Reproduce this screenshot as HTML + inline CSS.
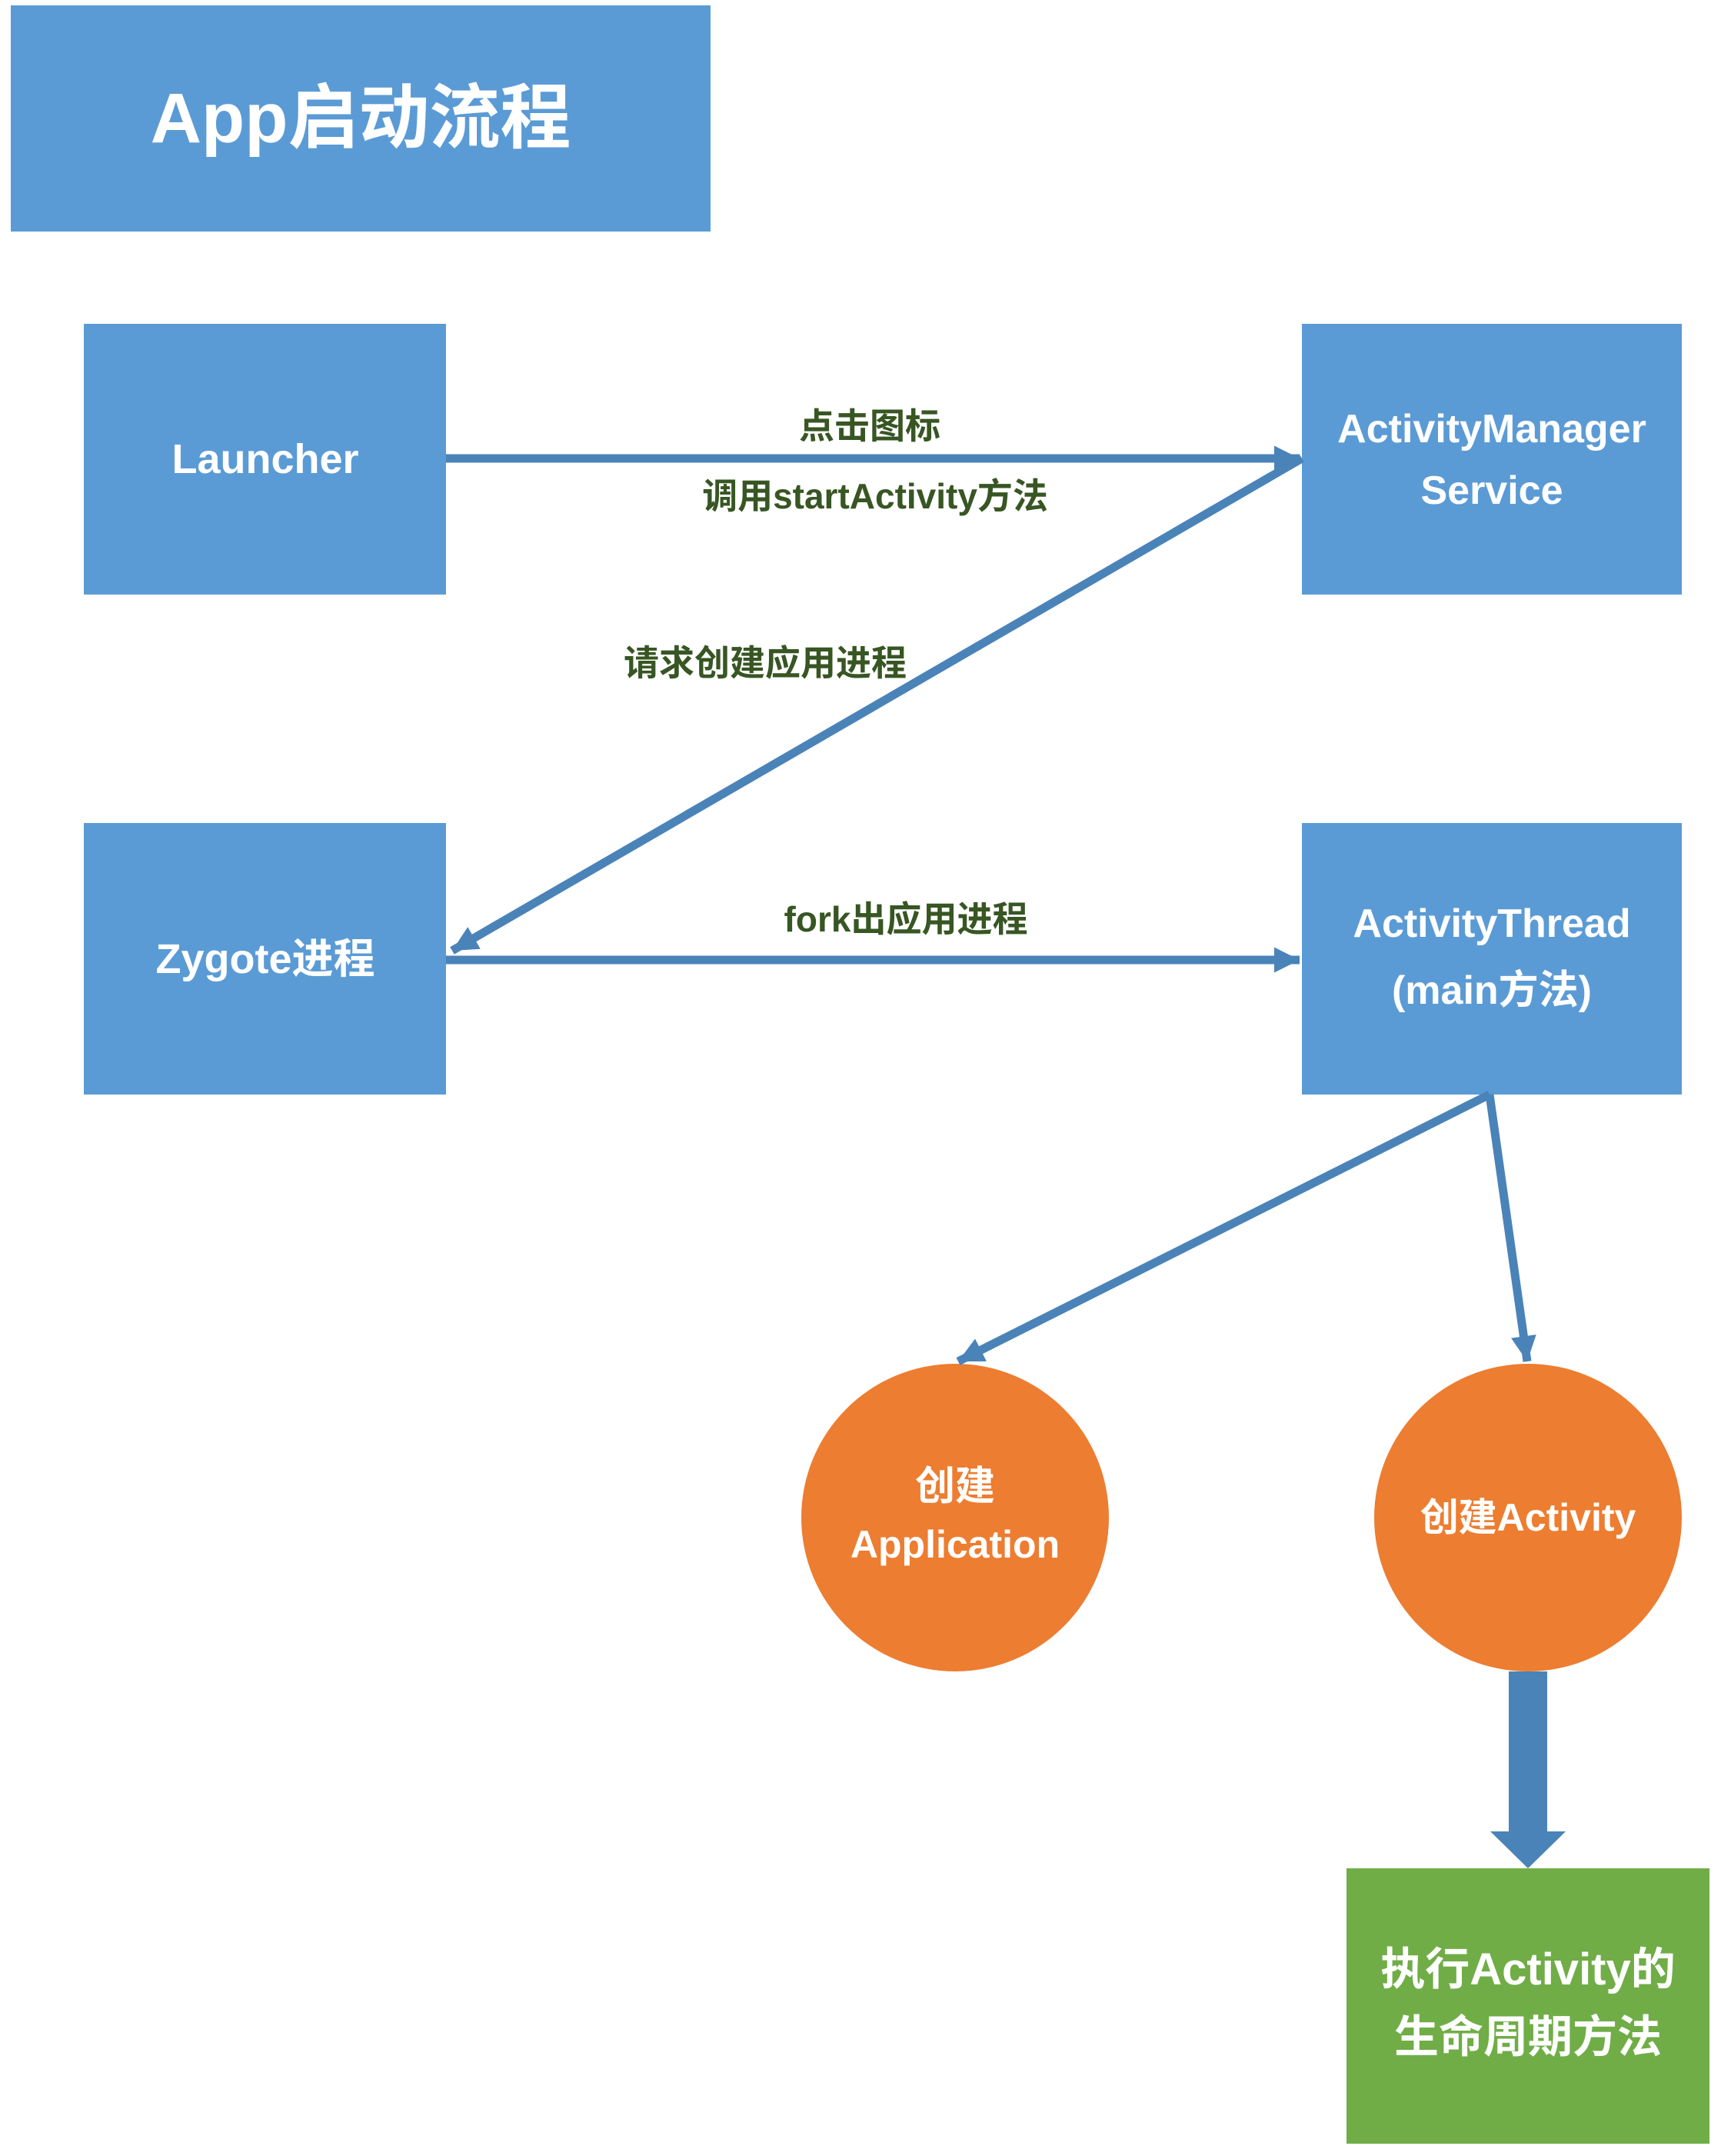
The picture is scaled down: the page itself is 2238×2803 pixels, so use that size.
<!DOCTYPE html>
<html><head><meta charset="utf-8"><style>
body{margin:0;background:#fff}
svg{display:block}
text{font-family:"Liberation Sans","Noto Sans CJK SC",sans-serif;}
.w{fill:#fff;font-weight:bold;text-anchor:middle}
.g{fill:#375623;text-anchor:middle;font-size:46px;font-weight:bold}
</style></head><body>
<svg width="2238" height="2803" viewBox="0 0 2238 2803" xmlns="http://www.w3.org/2000/svg">
<defs>
<marker id="ah" markerWidth="3" markerHeight="3" refX="3" refY="1.5" orient="auto" markerUnits="strokeWidth">
<path d="M0,0 L3,1.5 L0,3 Z" fill="#4a83b8"/></marker>
</defs>
<rect x="14" y="7" width="910" height="294" fill="#5b9bd5"/>
<text class="w" x="469" y="185" font-size="92">App启动流程</text>

<rect x="109" y="421" width="471" height="352" fill="#5b9bd5"/>
<text class="w" x="345" y="615" font-size="54">Launcher</text>
<rect x="1693" y="421" width="494" height="352" fill="#5b9bd5"/>
<text class="w" x="1940" y="575" font-size="52">ActivityManager</text>
<text class="w" x="1940" y="655" font-size="52">Service</text>
<rect x="109" y="1070" width="471" height="353" fill="#5b9bd5"/>
<text class="w" x="345" y="1265" font-size="54">Zygote进程</text>
<rect x="1693" y="1070" width="494" height="353" fill="#5b9bd5"/>
<text class="w" x="1940" y="1218" font-size="52">ActivityThread</text>
<text class="w" x="1940" y="1305" font-size="52">(main方法)</text>

<circle cx="1242" cy="1973" r="200" fill="#ed7d31"/>
<text class="w" x="1242" y="1950" font-size="52">创建</text>
<text class="w" x="1242" y="2025" font-size="50">Application</text>
<circle cx="1987" cy="1973" r="200" fill="#ed7d31"/>
<text class="w" x="1987" y="1990" font-size="50">创建Activity</text>
<rect x="1751" y="2429" width="472" height="358" fill="#70ad47"/>
<text class="w" x="1987" y="2580" font-size="58">执行Activity的</text>
<text class="w" x="1987" y="2668" font-size="58">生命周期方法</text>

<g stroke="#4a83b8" stroke-width="11" fill="none">
<line x1="580" y1="596" x2="1690" y2="596" marker-end="url(#ah)"/>
<line x1="1693" y1="596" x2="588" y2="1236" marker-end="url(#ah)"/>
<line x1="580" y1="1248" x2="1690" y2="1248" marker-end="url(#ah)"/>
<line x1="1937" y1="1423" x2="1246" y2="1770" marker-end="url(#ah)"/>
<line x1="1937" y1="1423" x2="1986" y2="1770" marker-end="url(#ah)"/>
</g>
<polygon points="1962,2173 2012,2173 2012,2381 2036,2381 1987,2429 1938,2381 1962,2381" fill="#4a83b8"/>

<text class="g" x="1131" y="570">点击图标</text>
<text class="g" x="1138" y="661">调用startActivity方法</text>
<text class="g" x="995" y="878">请求创建应用进程</text>
<text class="g" x="1178" y="1211">fork出应用进程</text>
</svg>
</body></html>
